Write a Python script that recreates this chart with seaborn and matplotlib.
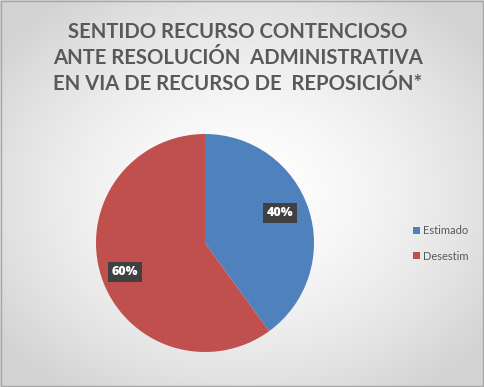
import numpy as np
import matplotlib
matplotlib.use("Agg")
import matplotlib.pyplot as plt
import seaborn as sns
from matplotlib.patches import Rectangle

sns.set_style("white")
plt.rcParams['font.family'] = ['Lato', 'DejaVu Sans']

categories = ["Estimado", "Desestim"]
values = [40, 60]
colors = ["#4F81BD", "#C0504D"]
title = "SENTIDO RECURSO CONTENCIOSO\nANTE RESOLUCIÓN  ADMINISTRATIVA\nEN VIA DE RECURSO DE  REPOSICIÓN*"

W, H = 485, 387
fig = plt.figure(figsize=(W / 100, H / 100), dpi=100)

# background radial gradient
bg = fig.add_axes([0, 0, 1, 1])
yy, xx = np.mgrid[0:H, 0:W]
cx, cy = W * 0.5, H * 0.5
r = np.sqrt(((xx - cx) / (W * 0.62)) ** 2 + ((yy - cy) / (H * 0.62)) ** 2)
v = 1.0 - 0.17 * np.clip(r, 0, 1) ** 1.6
bg.imshow(np.dstack([v, v, v]), extent=[0, W, H, 0], aspect="auto")
bg.set_xlim(0, W)
bg.set_ylim(H, 0)
bg.axis("off")
bg.add_patch(Rectangle((0.5, 0.5), W - 2, H - 2, fill=False, edgecolor="#A6A6A6", lw=1))

fig.text(0.49, 1 - 58 / H, title, ha="center", va="center", fontsize=14.6,
         fontweight="bold", color="#595959", linespacing=1.38)

# pie: center (205, 243), radius ~109
R = 109
ax = fig.add_axes([(205 - R) / W, 1 - (243 + R) / H, 2 * R / W, 2 * R / H])
wedges, _ = ax.pie(values, colors=colors, startangle=90, counterclock=False,
                   wedgeprops=dict(linewidth=0))
ax.set_xlim(-1, 1)
ax.set_ylim(-1, 1)
ax.set_aspect("auto")

label_pos = [(280, 213), (125, 272)]
for val, (px, py) in zip(values, label_pos):
    fig.text(px / W, 1 - py / H, f"{val}%", ha="center", va="center", fontsize=9,
             fontweight="heavy", color="white", family=["Open Sans", "DejaVu Sans"],
             bbox=dict(boxstyle="square,pad=0.3", fc="#404040", ec="none"))

# legend
for i, (cat, col) in enumerate(zip(categories, colors)):
    ly = 231 + i * 25
    bg.add_patch(Rectangle((413, ly - 4), 7, 7, facecolor=col, edgecolor="none"))
    bg.text(423, ly, cat, fontsize=8, color="#595959", va="center", ha="left")

fig.savefig("out.png", dpi=100)
